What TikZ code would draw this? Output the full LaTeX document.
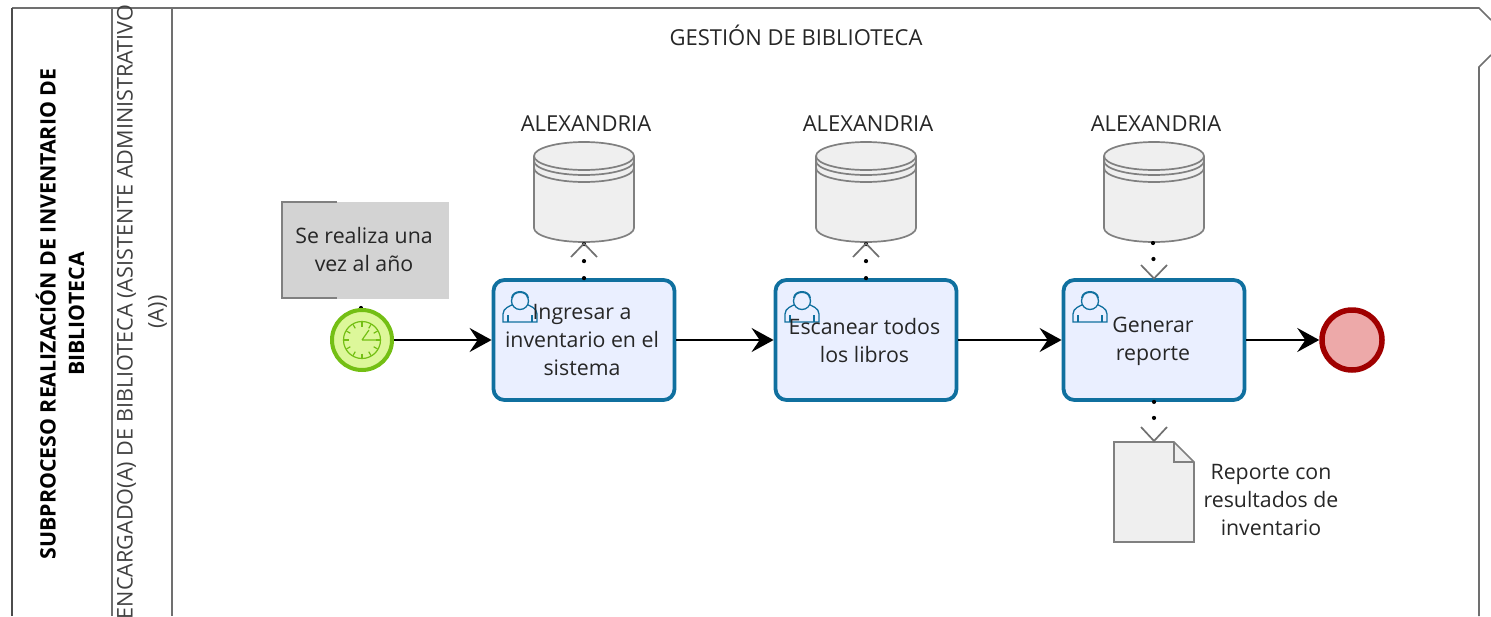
\documentclass[tikz,border=0pt]{standalone}
\usepackage{fontspec}
\setmainfont{Open Sans}
\usetikzlibrary{arrows.meta,calc}
\definecolor{taskblue}{HTML}{10709F}
\definecolor{taskfill}{HTML}{EAEFFF}
\definecolor{artgrey}{HTML}{808080}
\definecolor{artfill}{HTML}{EFEFEF}
\definecolor{startg}{HTML}{74BF14}
\definecolor{startf}{HTML}{DDF79A}
\definecolor{endr}{HTML}{A00000}
\definecolor{endf}{HTML}{EDA9A9}
\definecolor{notef}{HTML}{D3D3D3}
\definecolor{linegrey}{HTML}{707070}
\tikzset{
  x=1pt,y=-1pt,
  lbl/.style={font=\fontsize{21.3}{28}\selectfont,text=black!85,align=center,inner sep=0pt},
  capslbl/.style={lbl,font=\fontsize{22}{28}\selectfont},
  task/.style={draw=taskblue,fill=taskfill,line width=3.8pt,rounded corners=11pt,minimum width=181pt,minimum height=120pt,inner sep=0pt},
  flow/.style={draw=black,line width=2.2pt,-{Stealth[length=22pt,width=24pt,inset=8pt]}},
  assoc/.style={draw=black,line width=4.2pt,line cap=round,dash pattern=on 0pt off 17pt},
  assocshort/.style={draw=black,line width=4.2pt,line cap=round,dash pattern=on 0pt off 16pt on 0pt off 200pt},
  assocdot/.style={draw=black,line width=4.2pt,line cap=round,dash pattern=on 0pt off 200pt},
  opentip/.style={draw=linegrey,line width=1.7pt},
  art/.style={draw=artgrey,fill=artfill,line width=1.7pt},
  person/.style={draw=taskblue,line width=1.3pt,fill=taskfill},
  evstart/.style={circle,draw=startg,fill=startf,line width=4pt,minimum size=60pt,inner sep=0pt},
  evend/.style={circle,draw=endr,fill=endf,line width=5.5pt,minimum size=60pt,inner sep=0pt},
}
\newcommand{\dbcyl}[1]{%
  \begin{scope}[shift={(#1,0)}]
    \path[art] (-50,156) -- (-50,228) arc[x radius=50,y radius=14,start angle=180,end angle=0] -- (50,156) arc[x radius=50,y radius=14,start angle=0,end angle=-180] -- cycle;
    \draw[art,fill=none] (-50,156) arc[x radius=50,y radius=14,start angle=180,end angle=0];
    \draw[art,fill=none] (-50,161) arc[x radius=50,y radius=14,start angle=180,end angle=0];
    \draw[art,fill=none] (-50,168) arc[x radius=50,y radius=14,start angle=180,end angle=0];
  \end{scope}}
\newcommand{\usericon}[2]{%
  \begin{scope}[shift={(#1,#2)}]
    \path[person] (-17,31) -- (-17,23) .. controls (-17,17) and (-10,15) .. (-6,13) -- (6,13) .. controls (10,15) and (17,17) .. (17,23) -- (17,31) -- cycle;
    \draw[person,fill=none] (-12,31) -- (-12,24) (12,31) -- (12,24);
    \path[person] (0,10) circle[radius=8.5];
    \path[person,fill=taskfill,line width=2pt] (-8,7) .. controls (-7,-1) and (7,-1) .. (8,7);
  \end{scope}}
\begin{document}
\begin{tikzpicture}
\useasboundingbox (0,0) rectangle (1491,616);
% pool and lanes
\draw[draw=linegrey,line width=1.6pt] (1491,20) -- (1479,8) -- (12,8);
\draw[draw=black!70,line width=1.8pt] (12,8) -- (12,616);
\draw[draw=linegrey,line width=1.6pt] (1491,55) -- (1479,67) -- (1479,616);
\draw[draw=linegrey,line width=1.6pt] (112,8) -- (112,616);
\draw[draw=linegrey,line width=1.6pt] (172,8) -- (172,616);
\node[lbl,rotate=90,font=\bfseries\fontsize{21.3}{28.5}\selectfont,text=black] (pooltitle) at (60,314) {SUBPROCESO REALIZACIÓN DE INVENTARIO DE\\BIBLIOTECA};
\node[lbl,rotate=90,text=black!75,font=\fontsize{21.6}{31}\selectfont] (lanetitle) at (142,312) {ENCARGADO(A) DE BIBLIOTECA (ASISTENTE ADMINISTRATIVO\\(A))};
\node[capslbl] (lanehead) at (796,35) {GESTIÓN DE BIBLIOTECA};
% note
\node[fill=notef,minimum width=167pt,minimum height=97pt,inner sep=0pt,lbl] (note) at (365,250) {};
\node[lbl] (notetxt) at (364,250) {Se realiza una\\vez al año};
\draw[draw=artgrey,line width=1.5pt] (337,202) -- (282,202) -- (282,298) -- (337,298);
% tasks
\node[task] (t1) at (584,340) {};
\node[task] (t2) at (866,340) {};
\node[task] (t3) at (1154,340) {};
\usericon{520}{291}
\usericon{802}{291}
\usericon{1090}{291}
\node[lbl] (t1txt) at (582,340) {Ingresar a\\inventario en el\\sistema};
\node[lbl] (t2txt) at (864.5,340.5) {Escanear todos\\los libros};
\node[lbl] (t3txt) at (1153,341) {Generar\\reporte};
% events
\draw[assocdot] (361,308) -- (361,300);
\node[evstart] (start) at (362,340) {};
\node[circle,draw=startg,line width=1.2pt,minimum size=37pt,inner sep=0pt] (clock) at (362,340) {};
\foreach \a in {0,30,...,330}{\draw[startg,line width=1.2pt] ($(clock.center)+(\a:13.5pt)$) -- ($(clock.center)+(\a:18pt)$);}
\draw[startg,line width=1.2pt] (clock.center) -- ++(18,0) (clock.center) -- ++(7,-10);
\node[evend] (end) at (1352,340) {};
% data stores
\dbcyl{584}
\dbcyl{866}
\dbcyl{1154}
\coordinate (db1) at (584,243);
\coordinate (db2) at (866,243);
\coordinate (db3) at (1153,243);
\node[capslbl] (a1) at (586,123.5) {ALEXANDRIA};
\node[capslbl] (a2) at (868,123.5) {ALEXANDRIA};
\node[capslbl] (a3) at (1156,123.5) {ALEXANDRIA};
% document
\path[art] (1114,442) -- (1174,442) -- (1194,462) -- (1194,542) -- (1114,542) -- cycle;
\draw[art,fill=none] (1174,442) -- (1174,462) -- (1194,462);
\coordinate (doc) at (1154,442);
\node[lbl] (doctxt) at (1271,499.5) {Reporte con\\resultados de\\inventario};
% sequence flows
\draw[flow] (start.east) -- (t1.west);
\draw[flow] (t1.east) -- (t2.west);
\draw[flow] (t2.east) -- (t3.west);
\draw[flow] (t3.east) -- (end.west);
% associations
\draw[assoc] (t1.north) -- (db1);
\draw[opentip] (571,257) -- (584,243.5) -- (597,257);
\draw[assoc] (t2.north) -- (db2);
\draw[opentip] (853,257) -- (866,243.5) -- (879,257);
\draw[assocshort] (db3) -- (t3.north);
\draw[opentip] (1141,265) -- (1154,278.5) -- (1167,265);
\draw[assocshort] (t3.south) -- (doc);
\draw[opentip] (1141,427) -- (1154,441) -- (1167,427);
\end{tikzpicture}
\end{document}
